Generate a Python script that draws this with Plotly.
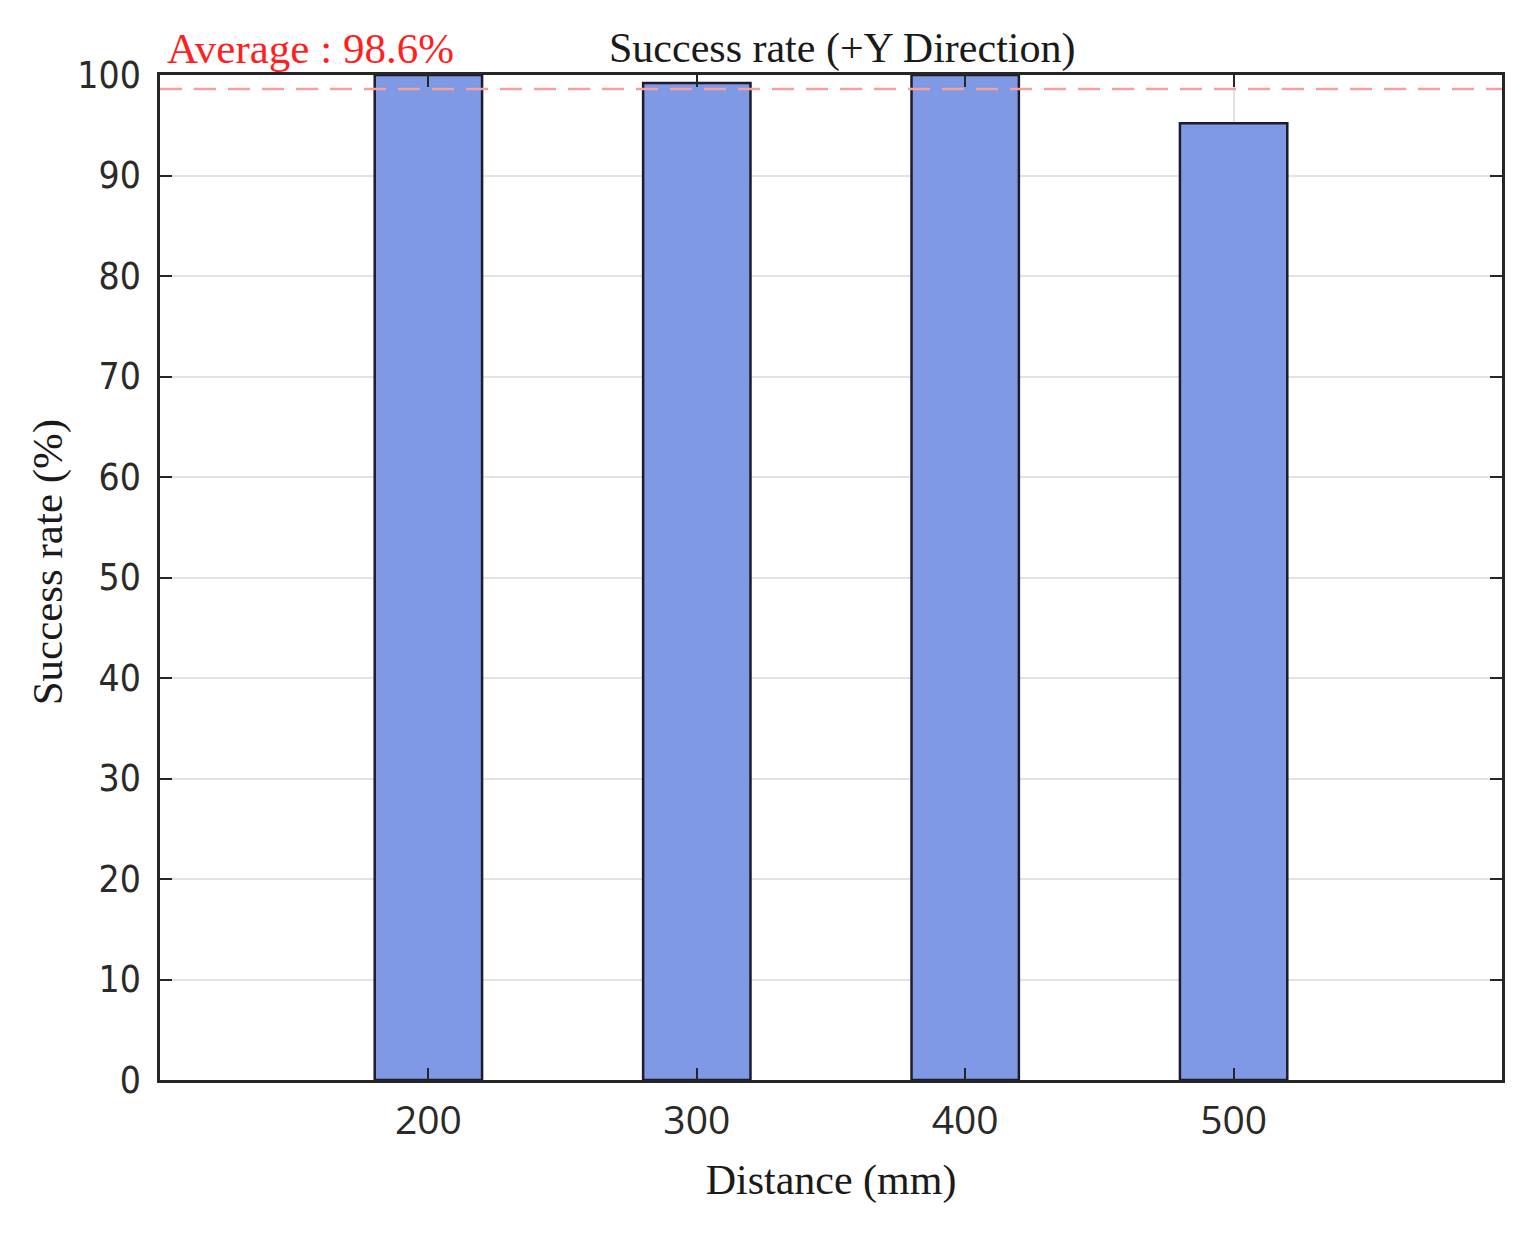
import plotly.graph_objects as go

distances = [200, 300, 400, 500]
success_rate = [100.0, 99.2, 100.0, 95.2]
average = 98.6
y_ticks = [0, 10, 20, 30, 40, 50, 60, 70, 80, 90, 100]
x_ticks = [200, 300, 400, 500]

fig = go.Figure()
fig.add_trace(go.Bar(
    x=distances, y=success_rate, width=40,
    marker=dict(color="#7f99e5", line=dict(color="#1c1c2c", width=2.5)),
    showlegend=False,
))
fig.add_shape(type="line", xref="paper", x0=0, x1=1, yref="y", y0=average, y1=average,
              line=dict(color="#f5a0a0", width=2.5, dash="22px,12px"), layer="above")

fig.add_annotation(text="Average : 98.6%", xref="paper", x=0.004, xanchor="left",
                   yref="paper", y=1.0, yanchor="bottom", yshift=1, showarrow=False,
                   font=dict(family="Liberation Serif", size=43, color="#ff1f1f"))
fig.add_annotation(text="Success rate (+Y Direction)", xref="paper", x=0.508, xanchor="center",
                   yref="paper", y=1.0, yanchor="bottom", yshift=1, showarrow=False,
                   font=dict(family="Liberation Serif", size=42, color="#1a1a1a"))
fig.add_annotation(text="Success rate (%)", textangle=-90,
                   xref="paper", x=-0.0835, xanchor="center",
                   yref="paper", y=0.516, yanchor="middle", showarrow=False,
                   font=dict(family="Liberation Serif", size=43, color="#1a1a1a"))

axis_common = dict(showline=True, linecolor="#262626", linewidth=2.5, mirror="ticks",
                   ticks="inside", ticklen=12, tickwidth=2, tickcolor="#262626",
                   showgrid=True, gridcolor="#e3e3e3", gridwidth=1.5, zeroline=False)

fig.update_layout(
    width=1537, height=1235,
    margin=dict(l=152, r=43, t=67, b=163),
    paper_bgcolor="white", plot_bgcolor="white",
    xaxis=dict(range=[100, 600], tickvals=x_ticks, ticklabelstandoff=4,
               tickfont=dict(family="Open Sans", size=39, color="#2a2a2a"),
               title=dict(text="Distance (mm)", standoff=22,
                          font=dict(family="Liberation Serif", size=42, color="#1a1a1a")),
               **axis_common),
    yaxis=dict(range=[0, 100], tickvals=y_ticks, ticklabelstandoff=9,
               tickfont=dict(family="DejaVu Sans Condensed, Open Sans", size=37, color="#2a2a2a"),
               **axis_common),
)
fig.write_html("out.html")
